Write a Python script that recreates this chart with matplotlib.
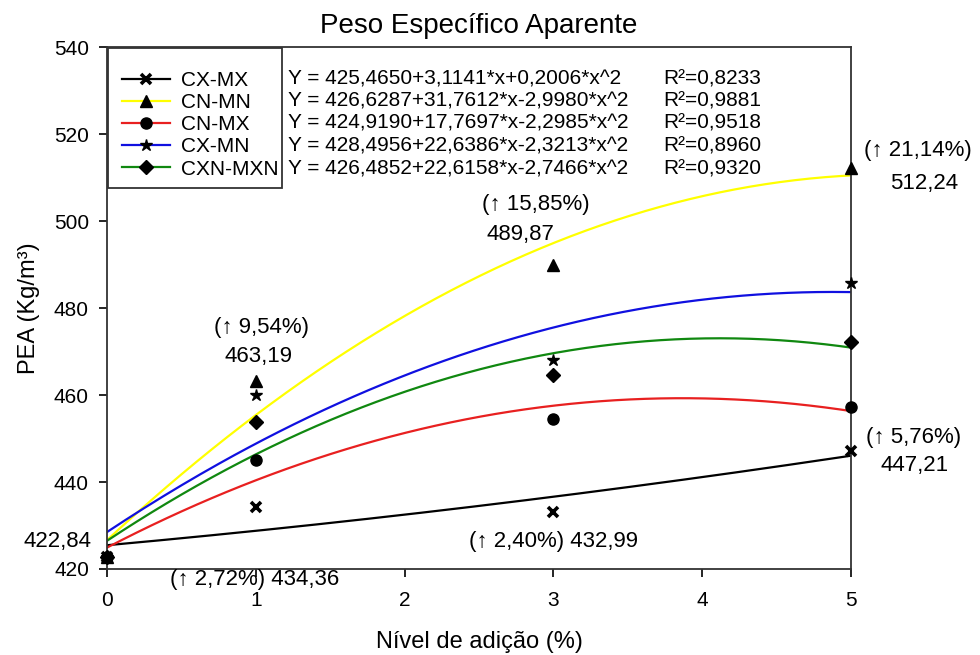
import numpy as np
import matplotlib
matplotlib.use("Agg")
import matplotlib.pyplot as plt
from matplotlib.lines import Line2D
from matplotlib.patches import Rectangle

plt.rcParams['font.family'] = ['Liberation Sans', 'DejaVu Sans']

# Addition levels (%)
levels = [0, 1, 3, 5]

# Measured apparent specific weight (Kg/m3) per treatment
series_names = ["CX-MX", "CN-MN", "CN-MX", "CX-MN", "CXN-MXN"]
cx_mx = [422.84, 434.36, 432.99, 447.21]
cn_mn = [422.84, 463.19, 489.87, 512.24]
cn_mx = [422.84, 445.0, 454.4, 457.3]
cx_mn = [422.84, 460.0, 468.0, 485.7]
cxn_mxn = [422.84, 453.7, 464.5, 472.2]

# Quadratic fit coefficients (a, b, c) for Y = a + b*x + c*x^2
fit_cx_mx = (425.4650, 3.1141, 0.2006)
fit_cn_mn = (426.6287, 31.7612, -2.9980)
fit_cn_mx = (424.9190, 17.7697, -2.2985)
fit_cx_mn = (428.4956, 22.6386, -2.3213)
fit_cxn_mxn = (426.4852, 22.6158, -2.7466)

r2_values = ["0,8233", "0,9881", "0,9518", "0,8960", "0,9320"]

series_values = [cx_mx, cn_mn, cn_mx, cx_mn, cxn_mxn]
fits = [fit_cx_mx, fit_cn_mn, fit_cn_mx, fit_cx_mn, fit_cxn_mxn]
line_colors = ["#000000", "#ffff00", "#e82020", "#1010e0", "#108810"]
markers = ["x", "^", "o", "*", "D"]
marker_sizes = [7, 8, 8, 9, 7]


def fmt(v):
    return f"{v:.4f}".replace(".", ",")


def equation(fit):
    a, b, c = fit
    sb = "+" if b >= 0 else "-"
    sc = "+" if c >= 0 else "-"
    return f"Y = {fmt(a)}{sb}{fmt(abs(b))}*x{sc}{fmt(abs(c))}*x^2"


fig = plt.figure(figsize=(9.8, 6.55), dpi=100)
ax = fig.add_axes([0.1092, 0.1313, 0.7592, 0.7969])

xs = np.linspace(0, 5, 200)
for vals, fit, col, mk, ms in zip(series_values, fits, line_colors, markers, marker_sizes):
    a, b, c = fit
    ax.plot(xs, a + b * xs + c * xs ** 2, color=col, lw=1.6, zorder=2)
    ax.plot(levels, vals, linestyle="none", marker=mk, color="black",
            markersize=ms, markeredgewidth=2.6 if mk == "x" else 1, zorder=3,
            clip_on=False)

ax.set_xlim(0, 5)
ax.set_ylim(420, 540)
ax.set_xticks([0, 1, 2, 3, 4, 5])
ax.set_yticks([420, 440, 460, 480, 500, 520, 540])
ax.tick_params(direction="out", length=6, width=1.2, labelsize=15, pad=7)
ax.tick_params(axis="x", pad=10)
for s in ax.spines.values():
    s.set_linewidth(1.3)
    s.set_color("#333333")

ax.set_title("Peso Específico Aparente", fontsize=20, pad=10)
ax.set_xlabel("Nível de adição (%)", fontsize=17, labelpad=15)
ax.set_ylabel("PEA (Kg/m³)", fontsize=17, labelpad=10)

# Legend with line + marker handles, boxed by a separate frame
handles = [Line2D([0], [0], color=col, lw=1.6, marker=mk, markerfacecolor="black",
                  markeredgecolor="black", markersize=ms,
                  markeredgewidth=2.6 if mk == "x" else 1)
           for col, mk, ms in zip(line_colors, markers, marker_sizes)]
leg = ax.legend(handles, series_names, loc="upper left", bbox_to_anchor=(0.0, 0.982),
                fontsize=15, frameon=False,
                handlelength=2.3, handletextpad=0.55, labelspacing=0.15,
                borderpad=0.7, borderaxespad=0.0)
ax.add_patch(Rectangle((0.0015, 0.730), 0.2335, 0.268, transform=ax.transAxes,
                       facecolor="white", edgecolor="#333333", lw=1.3, zorder=4,
                       clip_on=False))
leg.set_zorder(5)

# Fit equations and R² next to the legend
row_y = [0.9385, 0.8965, 0.8545, 0.8095, 0.7665]
for eq_fit, r2, yy in zip(fits, r2_values, row_y):
    ax.text(0.2430, yy, equation(eq_fit), transform=ax.transAxes, fontsize=15,
            va="center", ha="left")
    ax.text(0.7475, yy, f"R²={r2}", transform=ax.transAxes, fontsize=15,
            va="center", ha="left")

# Value annotations
ann = dict(fontsize=16, clip_on=False)
ax.text(-0.335, 426.4, "422,84", ha="center", va="center", **ann)
ax.text(0.99, 417.7, "(↑ 2,72%) 434,36", ha="center", va="center", **ann)
ax.text(1.04, 475.6, "(↑ 9,54%)", ha="center", va="center", **ann)
ax.text(1.02, 468.8, "463,19", ha="center", va="center", **ann)
ax.text(2.88, 503.8, "(↑ 15,85%)", ha="center", va="center", **ann)
ax.text(2.78, 496.9, "489,87", ha="center", va="center", **ann)
ax.text(3.0, 426.4, "(↑ 2,40%) 432,99", ha="center", va="center", **ann)
ax.text(5.45, 516.3, "(↑ 21,14%)", ha="center", va="center", **ann)
ax.text(5.49, 508.7, "512,24", ha="center", va="center", **ann)
ax.text(5.42, 450.3, "(↑ 5,76%)", ha="center", va="center", **ann)
ax.text(5.425, 443.7, "447,21", ha="center", va="center", **ann)

fig.savefig("out.png", dpi=100)
